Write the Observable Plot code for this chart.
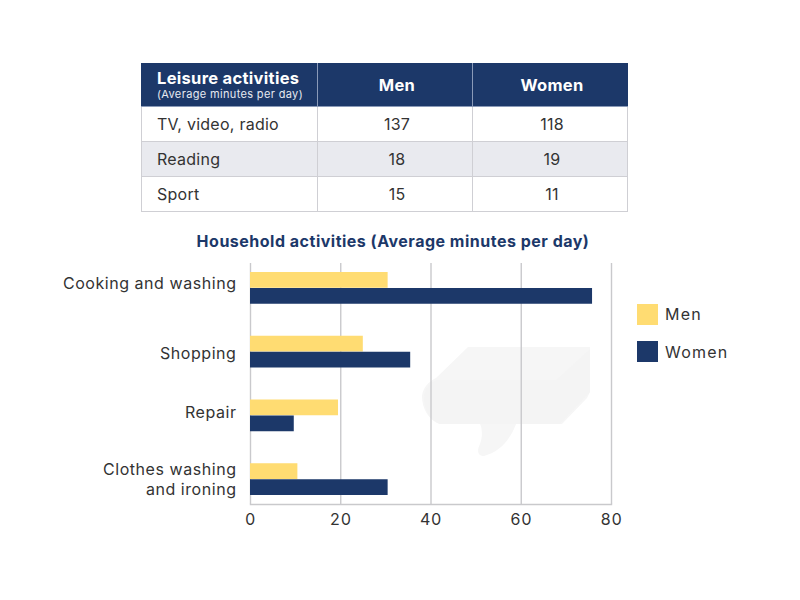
<!DOCTYPE html>
<html>
<head>
<meta charset="utf-8">
<script src="https://cdn.jsdelivr.net/npm/d3@7"></script>
<script src="https://cdn.jsdelivr.net/npm/@observablehq/plot@0.6"></script>
<style>
  html, body { margin: 0; padding: 0; background: #fff; width: 800px; height: 600px; overflow: hidden; }
  body { position: relative; font-family: Inter, "Open Sans", sans-serif; color: #333; }
  table { position: absolute; left: 141px; top: 63px; width: 486px; height: 149px; border-collapse: collapse; table-layout: fixed; font-size: 16px; letter-spacing: 0.25px; }
  td, th { border: 1px solid #cfcfd4; padding: 0 0 0 4px; text-align: center; }
  th { background: #1c3869; color: #fff; font-weight: 700; font-size: 16.5px; border-color: #8a9ab8; border-top-color:#1c3869; letter-spacing: 0.3px; }
  th:first-child { border-left-color:#1c3869; }
  th:last-child { border-right-color:#1c3869; }
  td:first-child, th:first-child { text-align: left; padding-left: 15px; }
  tr.alt td { background: #e9eaef; }
  th small { display: block; font-weight: 400; font-size: 11px; line-height: 13px; color: #e6e9f0; letter-spacing: 0.35px; white-space: nowrap; }
  th span { display: block; line-height: 19px; }
  #title { position: absolute; left: 0; width: 786px; top: 231px; text-align: center; font-weight: 700; font-size: 16px; letter-spacing: 0.5px; color: #1c3869; white-space: nowrap; }
  #mark { position: absolute; left: 0; top: 0; }
  #chart { position: absolute; left: 0; top: 250px; }
  .lg { position: absolute; left: 665px; font-size: 16px; letter-spacing: 1.2px; line-height: 20px; }
  .sw { position: absolute; left: 637px; width: 21px; height: 21px; }
</style>
</head>
<body>
<svg id="mark" width="800" height="600" aria-hidden="true">
  <path d="M468 347 H590 V392 L587 398 L562 424 H516 C510 440 500 452 484 456 C477 456 477 450 480 444 C483 436 482 428 480 424 H440 C428 420 422 408 422 396 C423 388 428 382 436 378 Z" fill="#f6f6f6"/>
  <path d="M436 380 H556 L590 349 V392 L560 424 H440 C428 420 424 406 424 398 C424 390 428 384 436 380 Z" fill="#f4f4f4"/>
</svg>
<table id="tbl"></table>
<div id="title"></div>
<div id="chart"></div>
<div class="sw" style="top:304px;background:#ffdc72"></div>
<div class="lg" id="l0" style="top:304px"></div>
<div class="sw" style="top:341px;background:#1c3869"></div>
<div class="lg" id="l1" style="top:342px"></div>
<script>
const seriesNames = ["Men", "Women"];
const tableTitle = "Leisure activities";
const tableSubtitle = "(Average minutes per day)";
const leisure = ["TV, video, radio", "Reading", "Sport"];
const leisureMen = [137, 18, 15];
const leisureWomen = [118, 19, 11];

const chartTitle = "Household activities (Average minutes per day)";
const activities = ["Cooking and washing", "Shopping", "Repair", "Clothes washing\nand ironing"];
const menValues = [30.5, 25, 19.5, 10.5];
const womenValues = [75.8, 35.5, 9.7, 30.5];
const xTicks = [0, 20, 40, 60, 80];

const menColor = "#ffdc72", womenColor = "#1c3869", gridColor = "#c9c9cc";

// Table
const tbl = document.getElementById("tbl");
const colW = [176, 155, 155];
tbl.innerHTML =
  `<colgroup>${colW.map(w => `<col style="width:${w}px">`).join("")}</colgroup>` +
  `<tr style="height:43px"><th><span>${tableTitle}</span><small>${tableSubtitle}</small></th><th>${seriesNames[0]}</th><th>${seriesNames[1]}</th></tr>` +
  leisure.map((d, i) => `<tr class="${i === 1 ? "alt" : ""}" style="height:35px"><td>${d}</td><td>${leisureMen[i]}</td><td>${leisureWomen[i]}</td></tr>`).join("");

document.getElementById("title").textContent = chartTitle;
document.getElementById("l0").textContent = seriesNames[0];
document.getElementById("l1").textContent = seriesNames[1];

const rows = activities.map((a, i) => ({activity: a, men: menValues[i], women: womenValues[i]}));

// The reference's category labels do not sit exactly at their band centres.
const labelShift = new Map([[activities[0], -6], [activities[1], 0], [activities[2], -4], [activities[3], -1]]);

const chart = Plot.plot({
  width: 800,
  height: 290,
  marginTop: 13,
  marginBottom: 36,
  marginLeft: 250,
  marginRight: 189,
  style: {background: "transparent", fontFamily: "Inter, 'Open Sans', sans-serif", fontSize: "16px", color: "#333", letterSpacing: "0.55px"},
  x: {domain: [0, 80], ticks: xTicks, label: null},
  y: {domain: activities, range: [6, 261], padding: 0, round: false, label: null},
  marks: [
    Plot.ruleX(xTicks, {stroke: gridColor, strokeWidth: 1.4, strokeOpacity: 1}),
    Plot.frame({anchor: "bottom", stroke: gridColor, strokeWidth: 1.4}),
    Plot.barX(rows, {x: "men", y: "activity", fill: menColor, insetTop: 16, insetBottom: 32}),
    Plot.barX(rows, {x: "women", y: "activity", fill: womenColor, insetTop: 32, insetBottom: 16}),
    Plot.axisX({tickSize: 0, tickPadding: 9, fontSize: 16, label: null, tickFormat: d => String(d)}),
    ...activities.map(a => Plot.axisY([a], {tickSize: 0, tickPadding: 14, fontSize: 16, lineHeight: 1.25, label: null, dy: labelShift.get(a)}))
  ]
});
document.getElementById("chart").appendChild(chart);
</script>
</body>
</html>
